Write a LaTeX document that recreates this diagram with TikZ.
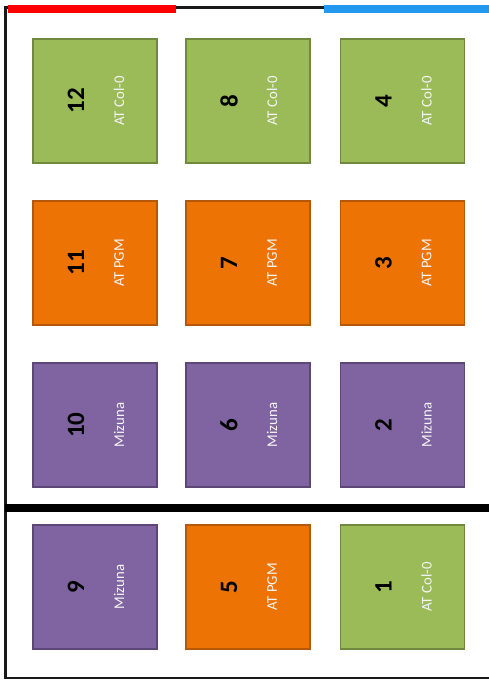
\documentclass[tikz,border=0pt]{standalone}
\usepackage{fontspec}
\setmainfont{Carlito}
\definecolor{gfill}{HTML}{9BBB59}
\definecolor{gdraw}{HTML}{71893F}
\definecolor{ofill}{HTML}{EC7304}
\definecolor{odraw}{HTML}{B5580A}
\definecolor{pfill}{HTML}{8064A2}
\definecolor{pdraw}{HTML}{5C4776}
\definecolor{barred}{HTML}{FF0000}
\definecolor{barblue}{HTML}{2299EE}
\tikzset{
  plot/.style={minimum width=124pt,minimum height=124pt,inner sep=0pt,line width=1.6pt},
  gplot/.style={plot,fill=gfill,draw=gdraw},
  oplot/.style={plot,fill=ofill,draw=odraw},
  pplot/.style={plot,fill=pfill,draw=pdraw},
  num/.style={rotate=90,font=\bfseries\fontsize{25}{25}\selectfont,text=black,inner sep=0pt},
  lab/.style={rotate=90,font=\fontsize{14.8}{14.8}\selectfont,text=white!92!gray,inner sep=0pt},
}
\newcommand{\plotbox}[5]{%
  \node[#2] (b#1) at (#3,#4) {};
  \node[num] (n#1) at ([xshift=-19pt]b#1.center) {#1};
  \node[lab] (l#1) at ([xshift=24pt]b#1.center) {#5};
}
\begin{document}
\begin{tikzpicture}[x=1pt,y=-1pt]
\useasboundingbox (0,0) rectangle (489,680);
\fill[white] (0,0) rectangle (489,680);
% frame
\coordinate (tl) at (5.5,7.5);
\coordinate (tr) at (489,7.5);
\coordinate (bl) at (5.5,677.8);
\coordinate (br) at (489,677.8);
\draw[line width=2.2pt,black!90] (tr) -- (tl) -- (bl) -- (br);
\coordinate (r1) at (7.5,9.2);
\coordinate (r2) at (176,9.2);
\coordinate (u1) at (324,9.2);
\coordinate (u2) at (489,9.2);
\draw[line width=8pt,barred] (r1) -- (r2);
\draw[line width=8pt,barblue] (u1) -- (u2);
\coordinate (d1) at (5,507.5);
\coordinate (d2) at (489,507.5);
\draw[line width=8pt,black] (d1) -- (d2);
% boxes
\plotbox{12}{gplot}{95}{101}{AT Col-0}
\plotbox{8}{gplot}{248}{101}{AT Col-0}
\plotbox{4}{gplot}{402.5}{101}{AT Col-0}
\plotbox{11}{oplot}{95}{263}{AT PGM}
\plotbox{7}{oplot}{248}{263}{AT PGM}
\plotbox{3}{oplot}{402.5}{263}{AT PGM}
\plotbox{10}{pplot}{95}{425}{Mizuna}
\plotbox{6}{pplot}{248}{425}{Mizuna}
\plotbox{2}{pplot}{402.5}{425}{Mizuna}
\plotbox{9}{pplot}{95}{587}{Mizuna}
\plotbox{5}{oplot}{248}{587}{AT PGM}
\plotbox{1}{gplot}{402.5}{587}{AT Col-0}
\end{tikzpicture}
\end{document}
